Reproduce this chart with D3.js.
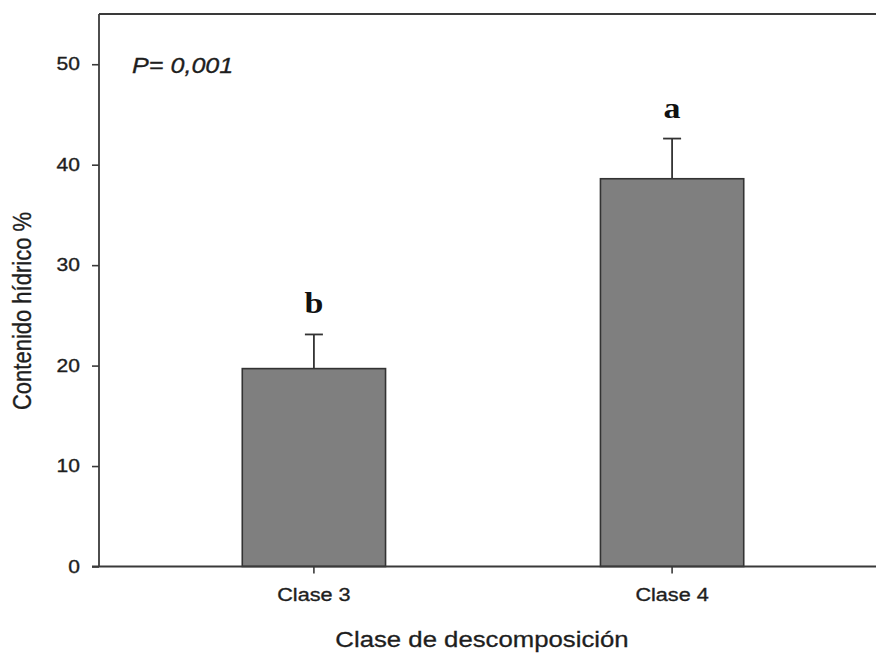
<!DOCTYPE html>
<html>
<head>
<meta charset="utf-8">
<script src="https://cdn.jsdelivr.net/npm/d3@7"></script>
<style>
  html, body { margin: 0; padding: 0; background: #fff; }
  svg { display: block; }
</style>
</head>
<body>
<svg id="chart" width="876" height="653"></svg>
<script>
// ---- data ----
const categories = ["Clase 3", "Clase 4"];
const means = [19.7, 38.6];
const errors = [3.4, 4.0];
const letters = ["b", "a"];
const yTicks = [0, 10, 20, 30, 40, 50];
const pText = "P= 0,001";
const xTitle = "Clase de descomposición";
const yTitle = "Contenido hídrico %";

// ---- layout ----
const W = 876, H = 653;
const mLeft = 99, mTop = 14, mBottom = 566.5, rightEdge = 887;
const SX = 1.17; // horizontal stretch of the text in the reference
const axisColor = "#3a3a3a";
const textColor = "#1e1e1e";
const sans = "'Liberation Sans', Arial, sans-serif";

const svg = d3.select("#chart");

const x = d3.scaleBand().domain(categories).range([mLeft, rightEdge])
  .paddingInner(0.6).paddingOuter(0.4);
const y = d3.scaleLinear().domain([0, 55]).range([mBottom, mTop]);

const data = categories.map((c, i) => ({ c, m: means[i], e: errors[i], l: letters[i] }));

// bars
svg.append("g").selectAll("rect").data(data).join("rect")
  .attr("x", d => x(d.c))
  .attr("y", d => y(d.m))
  .attr("width", x.bandwidth())
  .attr("height", d => y(0) - y(d.m))
  .attr("fill", "#7f7f7f")
  .attr("stroke", "#333")
  .attr("stroke-width", 1.6);

// error bars (upper only)
const eb = svg.append("g").attr("stroke", "#333").attr("stroke-width", 1.8);
eb.selectAll("line.v").data(data).join("line").attr("class", "v")
  .attr("x1", d => x(d.c) + x.bandwidth() / 2)
  .attr("x2", d => x(d.c) + x.bandwidth() / 2)
  .attr("y1", d => y(d.m))
  .attr("y2", d => y(d.m + d.e));
eb.selectAll("line.h").data(data).join("line").attr("class", "h")
  .attr("x1", d => x(d.c) + x.bandwidth() / 2 - 9)
  .attr("x2", d => x(d.c) + x.bandwidth() / 2 + 9)
  .attr("y1", d => y(d.m + d.e))
  .attr("y2", d => y(d.m + d.e));

// significance letters
svg.append("g").selectAll("text").data(data).join("text")
  .attr("transform", d => `translate(${x(d.c) + x.bandwidth() / 2},${y(d.m + d.e) - 21}) scale(${SX},1)`)
  .attr("text-anchor", "middle")
  .attr("font-family", "'Liberation Serif', 'Times New Roman', serif")
  .attr("font-weight", "bold")
  .attr("font-size", 29)
  .attr("fill", "#111")
  .text(d => d.l);

// y axis
const yAxis = svg.append("g").attr("transform", `translate(${mLeft},0)`)
  .call(d3.axisLeft(y).tickValues(yTicks).tickSize(7).tickPadding(12).tickSizeOuter(0));
yAxis.select(".domain").attr("stroke", axisColor).attr("stroke-width", 1.8)
  .attr("d", `M0,${mBottom}V${mTop}`);
yAxis.selectAll(".tick line").attr("stroke", axisColor).attr("stroke-width", 1.6);
yAxis.selectAll(".tick text")
  .attr("font-family", sans)
  .attr("font-size", 18)
  .attr("fill", textColor)
  .attr("stroke", textColor).attr("stroke-width", 0.35)
  .attr("x", -19 / SX)
  .attr("transform", `scale(${SX},1)`);

// x axis
const xAxis = svg.append("g").attr("transform", `translate(0,${mBottom})`)
  .call(d3.axisBottom(x).tickSize(7).tickPadding(14).tickSizeOuter(0));
xAxis.select(".domain").attr("stroke", axisColor).attr("stroke-width", 1.8)
  .attr("d", `M${mLeft - 7},0H${W}`);
xAxis.selectAll(".tick line").attr("stroke", axisColor).attr("stroke-width", 1.6);
xAxis.selectAll(".tick text")
  .attr("font-family", sans)
  .attr("font-size", 18.5)
  .attr("fill", textColor)
  .attr("stroke", textColor).attr("stroke-width", 0.35)
  .attr("transform", `scale(${SX},1)`);

// top frame line
svg.append("line")
  .attr("x1", mLeft).attr("x2", W)
  .attr("y1", mTop).attr("y2", mTop)
  .attr("stroke", axisColor).attr("stroke-width", 1.8);

// P value
svg.append("text")
  .attr("transform", `translate(132,73) scale(${SX},1)`)
  .attr("font-family", sans)
  .attr("font-style", "italic")
  .attr("font-size", 21.5)
  .attr("fill", textColor)
  .attr("stroke", textColor).attr("stroke-width", 0.3)
  .text(pText);

// axis titles
svg.append("text")
  .attr("transform", `translate(482,647) scale(${SX},1)`)
  .attr("text-anchor", "middle")
  .attr("font-family", sans)
  .attr("font-size", 22)
  .attr("fill", textColor)
  .attr("stroke", textColor).attr("stroke-width", 0.3)
  .text(xTitle);

svg.append("text")
  .attr("transform", `translate(31,311) scale(${SX},1) rotate(-90)`)
  .attr("text-anchor", "middle")
  .attr("font-family", sans)
  .attr("font-size", 22)
  .attr("fill", textColor)
  .attr("stroke", textColor).attr("stroke-width", 0.3)
  .text(yTitle);
</script>
</body>
</html>
